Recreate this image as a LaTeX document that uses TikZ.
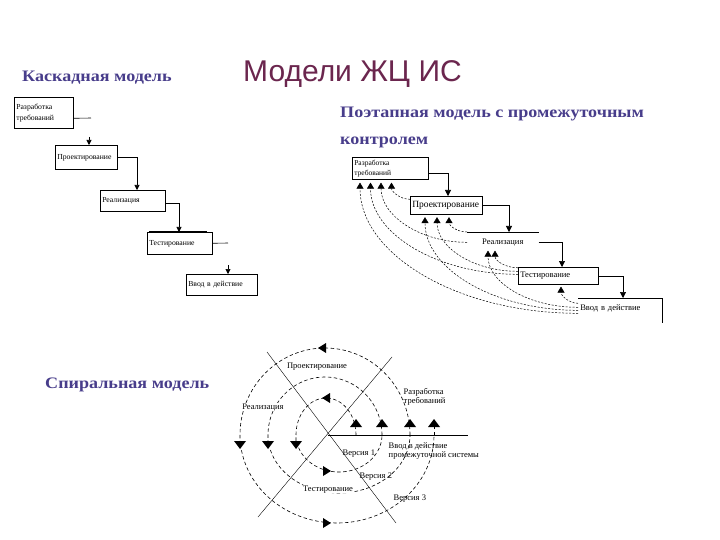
\documentclass[tikz,border=0pt]{standalone}
\usepackage{fontspec}
\setmainfont{Liberation Serif}
\newfontfamily\titlefont{Liberation Sans}
\newfontfamily\headfont{Liberation Serif}[FakeStretch=1.13]
\usetikzlibrary{arrows.meta}
\definecolor{titlecol}{RGB}{107,38,78}
\definecolor{subcol}{RGB}{72,61,139}
\newcommand{\fsz}[2]{\fontsize{#1}{#2}\selectfont}
\begin{document}
\begin{tikzpicture}[x=1pt,y=-1pt,
  heading/.style={inner sep=0, text=subcol, font=\headfont\bfseries\fsz{16}{18}},
  wfbox/.style={draw, line width=0.6pt, inner sep=2pt, anchor=north west, align=left, font=\fsz{7.7}{11}},
  wfline/.style={line width=0.6pt},
  wfarrow/.style={line width=0.6pt, -{Triangle[width=5pt,length=5pt]}},
  stbox/.style={draw, line width=0.6pt, inner sep=2pt, anchor=north west, align=left, font=\fsz{8.5}{9}},
  starrow/.style={line width=0.6pt, -{Triangle[width=6pt,length=6pt]}},
  fb/.style={line width=0.5pt, dash pattern=on 2pt off 1.5pt, -{Triangle[width=7pt,length=6pt]}},
  spir/.style={line width=0.6pt, dash pattern=on 3.5pt off 2.5pt},
  spl/.style={font=\fsz{8.5}{9}, inner sep=0.5pt},
  tup/.pic={\fill (0,-4) -- (6,4) -- (-6,4) -- cycle;},
  tdown/.pic={\fill (0,4) -- (6,-4) -- (-6,-4) -- cycle;},
  tleft/.pic={\fill (-4,0) -- (4,-5) -- (4,5) -- cycle;},
  tright/.pic={\fill (4,0) -- (-4,-5) -- (-4,5) -- cycle;}
]
\useasboundingbox[fill=white] (0,0) rectangle (720,540);

% ---------- titles ----------
\node[anchor=base west, inner sep=0, text=titlecol, font=\titlefont\fsz{30}{32}] (title) at (243,82) {Модели ЖЦ ИС};
\node[heading, anchor=base west] (hcasc) at (22,82) {Каскадная модель};
\node[heading, anchor=base west] (hstage) at (340,118) {Поэтапная модель с промежуточным};
\node[heading, anchor=base west] (hstage2) at (340,145) {контролем};
\node[heading, anchor=base west] (hspir) at (45,388) {Спиральная модель};

% ---------- waterfall model ----------
\node[wfbox, minimum width=59pt, minimum height=31pt, text width=55pt] (w1) at (14,97) {Разработка\\требований};
\node[wfbox, minimum width=62pt, minimum height=24pt, text width=58pt] (w2) at (55,145) {Проектирование};
\node[wfbox, minimum width=65pt, minimum height=21pt, text width=61pt] (w3) at (100,190) {Реализация};
\node[wfbox, minimum width=65pt, minimum height=22pt, text width=61pt] (w4) at (147,232) {Тестирование};
\node[wfbox, minimum width=71pt, minimum height=21pt, text width=67pt] (w5) at (186,274) {Ввод в действие};
\draw[line width=1.2pt] ([xshift=2pt]w4.north west) -- ([xshift=-6pt]w4.north east);

\coordinate (w1t) at (91,118);
\draw[wfline] ([yshift=-5.5pt]w1.east) -- (w1t);
\coordinate (w2s) at (89,137);
\draw[wfarrow] (w2s) -- ([xshift=34pt]w2.north west);
\draw[wfarrow] (w2.east) -| ([xshift=37pt]w3.north west);
\draw[wfarrow] ([yshift=-2.5pt]w3.east) -| ([xshift=32pt]w4.north west);
\coordinate (w4t) at (228,243);
\draw[wfline] (w4.east) -- (w4t);
\coordinate (w5s) at (228,265);
\draw[wfarrow] (w5s) -- ([xshift=42pt]w5.north west);

% ---------- staged model ----------
\node[stbox, minimum width=76pt, minimum height=22pt, text width=72pt, font=\fsz{7.5}{10}] (s1) at (352,157) {Разработка\\требований};
\node[stbox, minimum width=72pt, minimum height=18pt, text width=68pt, font=\fsz{9.5}{10}] (s2) at (410,196) {Проектирование};
\node[stbox, draw=none, minimum width=71pt, minimum height=20pt, text width=67pt, align=center] (s3) at (467,232) {Реализация};
\node[stbox, minimum width=80pt, minimum height=17pt, text width=76pt] (s4) at (518,267) {Тестирование};
\node[stbox, draw=none, minimum width=84pt, minimum height=20pt, text width=80pt] (s5) at (578,298) {Ввод в действие};
\draw[wfline] (s3.north west) -- (s3.north east);
\draw[wfline] (s5.north west) -- (s5.north east) -- ([yshift=-4pt]s5.south east);

\draw[starrow] ([yshift=-5pt]s1.east) -| ([xshift=38pt]s2.north west);
\draw[starrow] (s2.east) -| ([xshift=42pt]s3.north west);
\draw[starrow] (s3.east) -| ([xshift=44pt]s4.north west);
\draw[starrow] (s4.east) -| ([xshift=45pt]s5.north west);

% feedback
\draw[fb] ([yshift=5pt]s5.west) .. controls +(-9,0) and +(0,9) .. ([shift={(43pt,-2pt)}]s4.south west);
\draw[fb] ([yshift=1pt]s5.west) .. controls +(-50,0) and +(0,32) .. ([shift={(21pt,2pt)}]s3.south west);
\draw[fb] ([yshift=-2pt]s5.west) .. controls +(-84,0) and +(0,52) .. ([shift={(15pt,-2.5pt)}]s2.south west);
\draw[fb] ([yshift=-5pt]s5.west) .. controls +(-120,0) and +(0,72) .. ([shift={(8pt,-3pt)}]s1.south west);
\draw[fb] ([yshift=8pt]s4.west) .. controls +(-13,0) and +(0,10) .. ([shift={(28pt,2pt)}]s3.south west);
\draw[fb] ([yshift=4.5pt]s4.west) .. controls +(-45,0) and +(0,30) .. ([shift={(27pt,-2.5pt)}]s2.south west);
\draw[fb] ([yshift=1.5pt]s4.west) .. controls +(-81,0) and +(0,51) .. ([shift={(18.5pt,-3pt)}]s1.south west);
\draw[fb] (s3.north west) .. controls +(-10,0) and +(0,8.5) .. ([shift={(39pt,-2.5pt)}]s2.south west);
\draw[fb] (s3.west) .. controls +(-47,0) and +(0,33) .. ([shift={(29pt,-3pt)}]s1.south west);
\draw[fb] ([yshift=6pt]s2.west) .. controls +(-10,0) and +(0,9) .. ([shift={(39.5pt,-3pt)}]s1.south west);

% ---------- spiral model ----------
\draw[line width=0.6pt] (328,435) -- (468,435);
\draw[line width=0.4pt] (267,352) -- (396,523);
\draw[line width=0.4pt] (392,357) -- (258,517);

\draw[spir] plot[domain=0:180, samples=45, variable=\t] ({326+30*cos(\t)},{435-37*sin(\t)}) -- (296,441);
\draw[spir] plot[domain=0:180, samples=60, variable=\t] ({325+57*cos(\t)},{435-58*sin(\t)}) -- (268,441);
\draw[spir] plot[domain=0:180, samples=80, variable=\t] ({325+85*cos(\t)},{435-87*sin(\t)}) -- (240,441);
\draw[spir] plot[domain=200:360, samples=45, variable=\t] ({339+43*cos(\t)},{435-37*sin(\t)});
\draw[spir] plot[domain=195:360, samples=60, variable=\t] ({339+71*cos(\t)},{435-58*sin(\t)});
\draw[spir] plot[domain=190:360, samples=80, variable=\t] ({337+97*cos(\t)},{435-88*sin(\t)});
\draw[spir] (434,435) -- (434,427);

\pic at (356,423) {tup};
\pic at (382,423) {tup};
\pic at (410,423) {tup};
\pic at (434,423) {tup};
\pic at (296,445) {tdown};
\pic at (268,445) {tdown};
\pic at (240,445) {tdown};
\pic at (326,398) {tleft};
\pic at (322,348) {tleft};
\pic at (327,471) {tright};
\pic at (327,523) {tright};

\node[spl, anchor=base] (lproj) at (317,368) {Проектирование};
\node[spl, anchor=base, fill=white] (lreal) at (263,409) {Реализация};
\node[spl, anchor=north west, align=left] (lreq) at (403,388) {Разработка\\требований};
\node[spl, anchor=north west, align=left] (lvvod) at (388,442) {Ввод в действие\\промежуточной системы};
\node[spl, anchor=base west] (lv1) at (342,455) {Версия 1};
\node[spl, anchor=base west] (lv2) at (359,478) {Версия 2};
\node[spl, anchor=base west] (lv3) at (393,500) {Версия 3};
\node[spl, anchor=base, fill=white] (ltest) at (328,491) {Тестирование};
\end{tikzpicture}
\end{document}
